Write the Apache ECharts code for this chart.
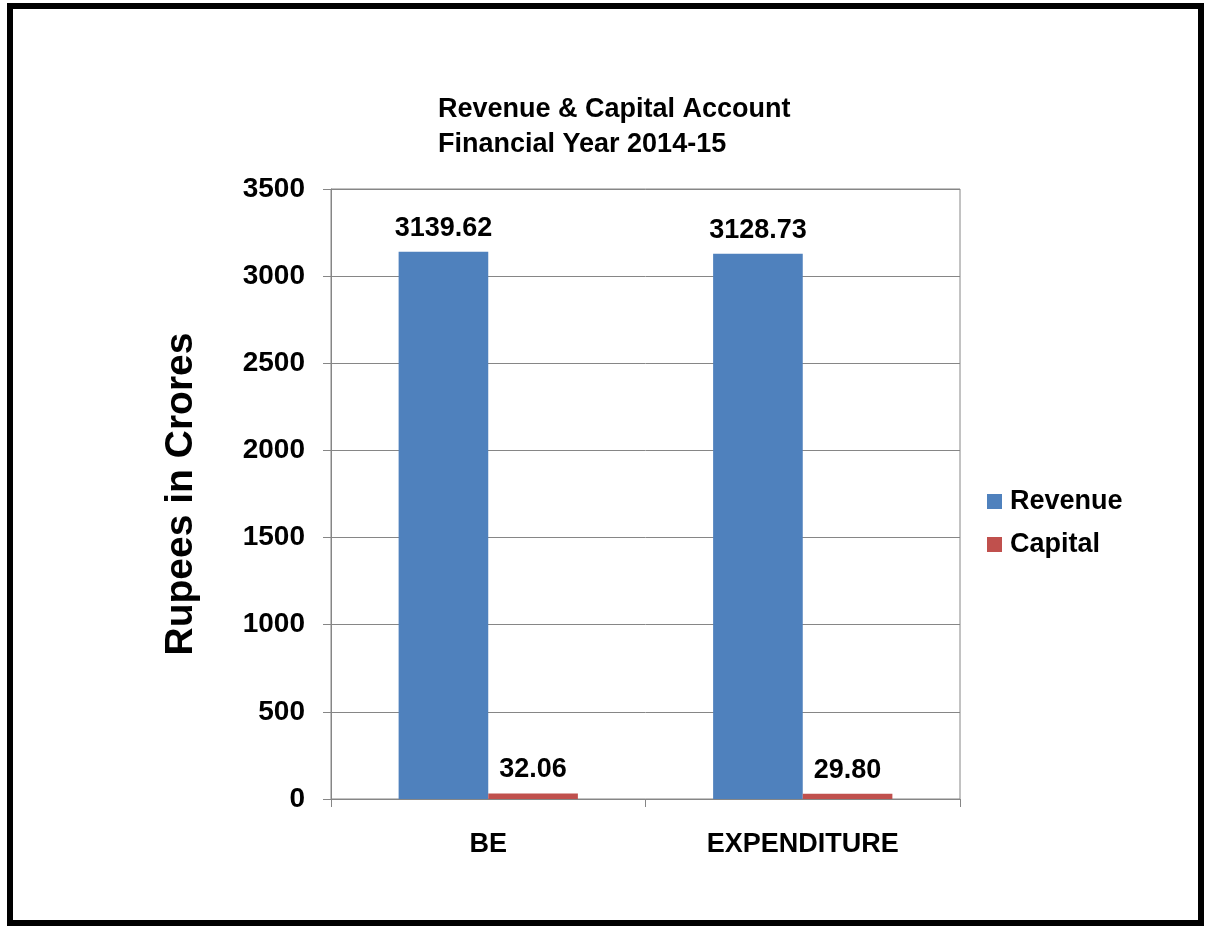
<!DOCTYPE html>
<html>
<head>
<meta charset="utf-8">
<script src="https://cdn.jsdelivr.net/npm/echarts@6/dist/echarts.min.js"></script>
<style>
html,body{margin:0;padding:0;background:#fff;}
#main{width:1208px;height:926px;}
</style>
</head>
<body>
<div id="main"></div>
<script>
const categories = ['BE', 'EXPENDITURE'];
const revenue = [3139.62, 3128.73];
const capital = [32.06, 29.80];
const seriesNames = ['Revenue', 'Capital'];
const titleLines = ['Revenue & Capital Account', 'Financial Year 2014-15'];
const yAxisName = 'Rupees in Crores';

const FONT = "'Liberation Sans', Arial, sans-serif";
const chart = echarts.init(document.getElementById('main'));
const labelStyle = {
  show: true, position: 'top', distance: 10,
  color: '#000', fontFamily: FONT, fontWeight: 'bold', fontSize: 27,
  formatter: p => Number(p.value).toFixed(2)
};
chart.setOption({
  animation: false,
  backgroundColor: '#fff',
  title: {
    text: titleLines.join('\n'),
    left: 438, top: 92, padding: 0,
    textStyle: { fontFamily: FONT, fontWeight: 'bold', fontSize: 27, lineHeight: 35, color: '#000' }
  },
  legend: {
    orient: 'vertical', left: 987, top: 488, padding: 0,
    itemWidth: 15, itemHeight: 15, itemGap: 16, icon: 'rect',
    textStyle: { fontFamily: FONT, fontWeight: 'bold', fontSize: 27, color: '#000', padding: [0,0,0,3] },
    data: seriesNames
  },
  grid: {
    left: 331, right: 248, top: 189, bottom: 127,
    show: true, borderColor: '#868686', borderWidth: 1, backgroundColor: 'transparent'
  },
  xAxis: {
    type: 'category', data: categories,
    axisLine: { lineStyle: { color: '#868686', width: 1 } },
    axisTick: { show: true, length: 8, alignWithLabel: false, lineStyle: { color: '#868686' } },
    axisLabel: { margin: 32, color: '#000', fontFamily: FONT, fontWeight: 'bold', fontSize: 27 },
    splitLine: { show: false }
  },
  yAxis: {
    type: 'value', min: 0, max: 3500, interval: 500,
    name: yAxisName, nameLocation: 'middle', nameGap: 130,
    nameTextStyle: { fontFamily: FONT, fontWeight: 'bold', fontSize: 39, color: '#000' },
    axisLine: { show: true, lineStyle: { color: '#868686', width: 1 } },
    axisTick: { show: true, length: 8, lineStyle: { color: '#868686' } },
    axisLabel: { margin: 26, color: '#000', fontFamily: FONT, fontWeight: 'bold', fontSize: 28,
      formatter: v => String(v) },
    splitLine: { show: true, lineStyle: { color: '#868686', width: 1 } }
  },
  series: [
    { name: seriesNames[0], type: 'bar', data: revenue, barGap: '0%', barCategoryGap: '43%',
      itemStyle: { color: '#4F81BD' }, label: labelStyle },
    { name: seriesNames[1], type: 'bar', data: capital, barGap: '0%', barCategoryGap: '43%',
      itemStyle: { color: '#C0504D' }, label: labelStyle }
  ],
  graphic: [{
    type: 'rect', z: 100, silent: true,
    shape: { x: 10, y: 6, width: 1191, height: 917 },
    style: { fill: 'none', stroke: '#000', lineWidth: 6 }
  }]
});
</script>
</body>
</html>
